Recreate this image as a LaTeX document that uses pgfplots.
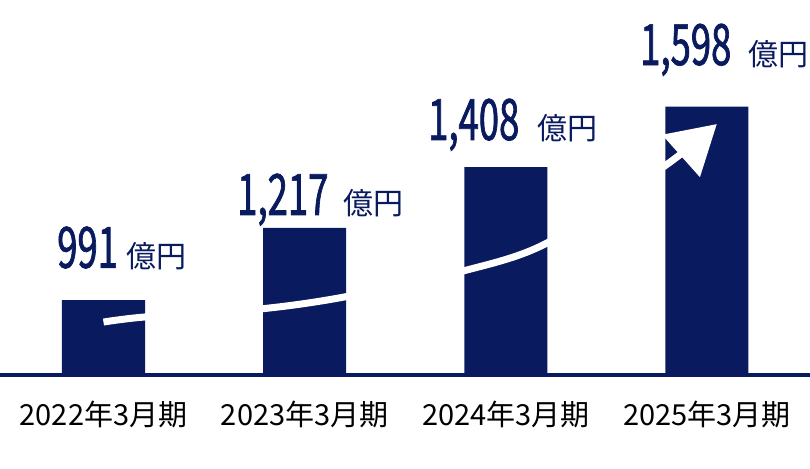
\documentclass[border=0pt]{standalone}
\usepackage{fontspec}
\usepackage{pgfplots}
\pgfplotsset{compat=1.18}
\usetikzlibrary{arrows.meta}
\setmainfont{Noto Sans CJK JP}
\newfontfamily\cjk{Noto Sans CJK JP}
\newfontfamily\numfont[FakeStretch=0.64, FakeBold=1.2]{Noto Sans CJK JP}
\definecolor{navy}{RGB}{9,26,94}

\newcommand{\val}[2]{{\numfont\fontsize{57}{57}\selectfont #1}\hspace{#2}{\cjk\fontsize{30}{30}\selectfont 億円}}

\begin{document}
\begin{tikzpicture}
\begin{axis}[
    scale only axis,
    width=810pt, height=375pt,
    xmin=-0.5145, xmax=3.5121,
    ymin=756, ymax=1932,
    ybar, bar width=0.4126,
    clip mode=individual,
    axis x line=bottom,
    axis y line=none,
    x axis line style={-, line width=4pt, draw=navy},
    xtick={0,1,2,3},
    xticklabels={2022年3月期,2023年3月期,2024年3月期,2025年3月期},
    major tick length=0pt,
    xticklabel style={font=\cjk\fontsize{29}{29}\selectfont, text=black, anchor=base, yshift=-50pt},
    ytick=\empty,
]
\addplot[fill=navy, draw=none] coordinates {(0,991) (1,1217) (2,1408) (3,1598)};
\addplot[sharp plot, white, line width=7pt, smooth, tension=0.5,
    -{Triangle[length=48pt, width=55pt]}]
    coordinates {(0,922) (0.206,938) (0.778,963) (1.20,1001) (1.787,1082) (2.205,1170) (2.791,1412) (3.049,1543)};

\node[anchor=base west, inner sep=0pt, text=navy] at (axis cs:-0.231,1092) {\val{991}{9pt}};
\node[anchor=base west, inner sep=0pt, text=navy] at (axis cs:0.664,1258) {\val{1,217}{15pt}};
\node[anchor=base west, inner sep=0pt, text=navy] at (axis cs:1.613,1493) {\val{1,408}{18pt}};
\node[anchor=base west, inner sep=0pt, text=navy] at (axis cs:2.667,1728) {\val{1,598}{17pt}};
\end{axis}
\pgfresetboundingbox
\path[use as bounding box] (0,-93pt) rectangle (810pt,375pt);
\end{tikzpicture}
\end{document}
